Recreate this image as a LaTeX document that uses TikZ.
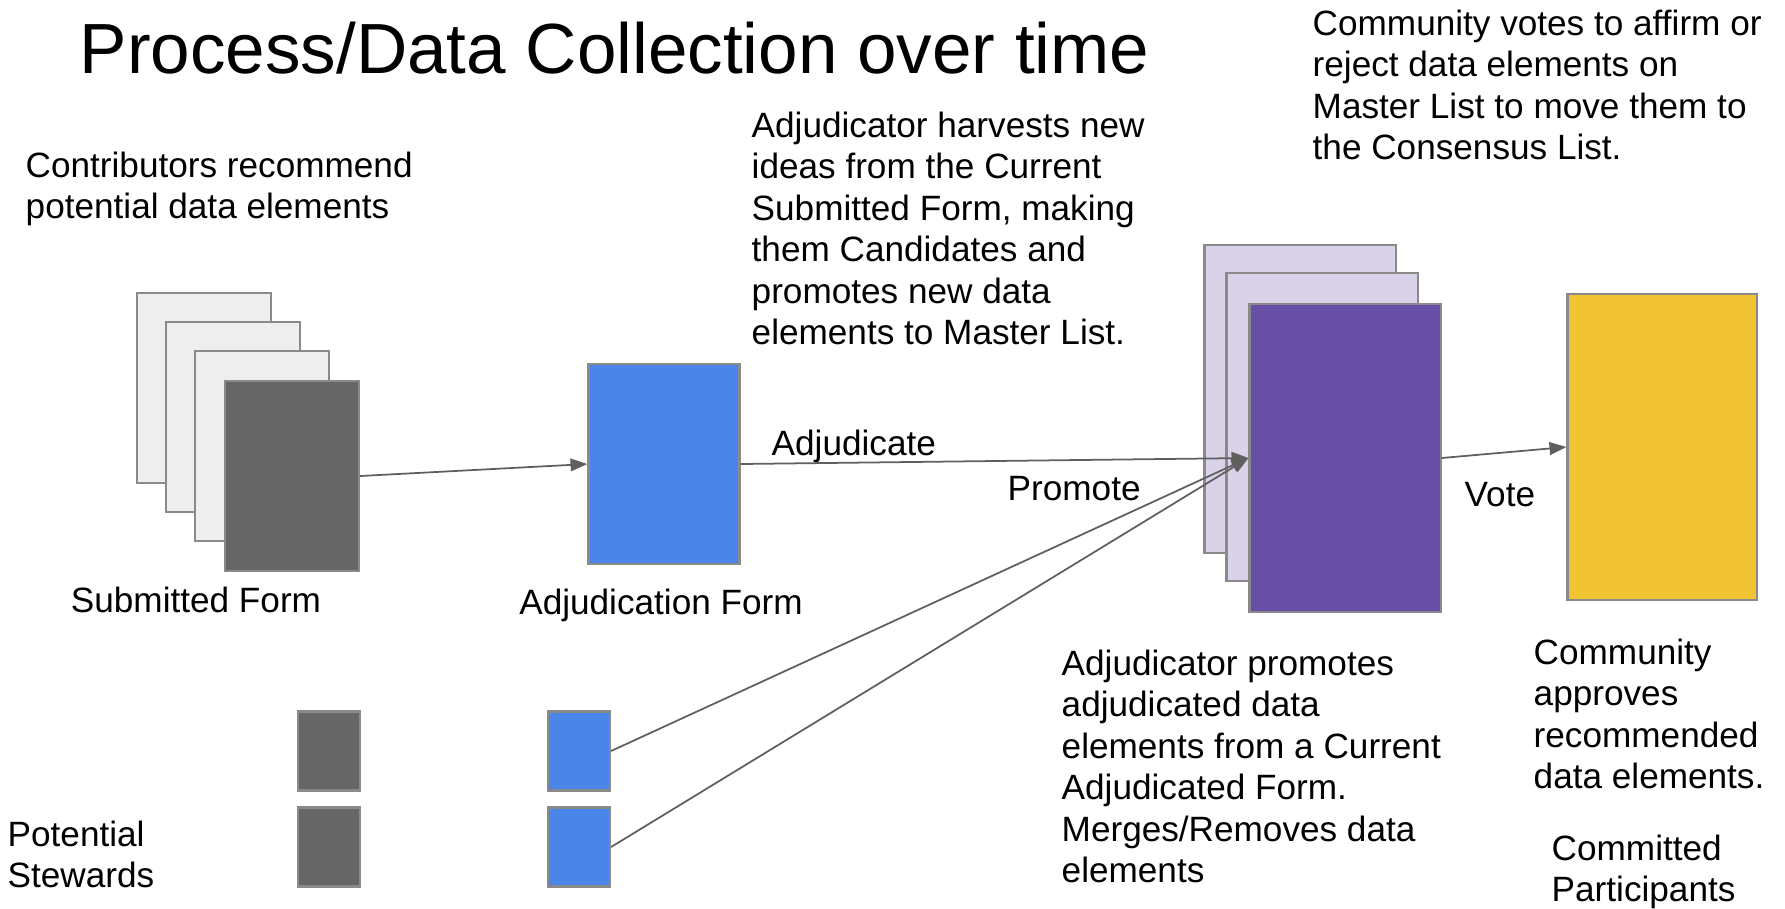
\documentclass[tikz,border=0pt]{standalone}
\usepackage{fontspec}
\setmainfont{Liberation Sans}
\usetikzlibrary{arrows.meta}
\definecolor{sheetgray}{HTML}{EEEEEE}
\definecolor{formgray}{HTML}{666666}
\definecolor{formblue}{HTML}{4A86E8}
\definecolor{listpurple}{HTML}{674EA7}
\definecolor{sheetpurple}{HTML}{D9D2E9}
\definecolor{listyellow}{HTML}{F1C232}
\definecolor{linegray}{HTML}{5F5F5F}
\definecolor{edgegray}{HTML}{8A8A8A}
\begin{document}
\begin{tikzpicture}[
x=0.01cm, y=-0.01cm,
sheet/.style={rectangle, draw=edgegray, line width=0.6pt, inner sep=0pt},
bigsheet/.style={sheet, minimum width=1.34cm, minimum height=1.9cm},
listsheet/.style={sheet, minimum width=1.91cm, minimum height=3.07cm},
smallsheet/.style={sheet, minimum width=0.62cm, minimum height=0.79cm},
note/.style={anchor=north west, align=left, inner sep=0pt, font=\fontsize{10pt}{11.8pt}\selectfont},
label/.style={anchor=base, inner sep=0pt, font=\fontsize{10pt}{11.8pt}\selectfont},
flow/.style={draw=linegray, line width=0.5pt, -{Triangle[length=4.8pt, width=3.6pt]}},
]
\useasboundingbox (0,0) rectangle (1785,908);
%Title
\node[anchor=base west, inner sep=0pt, font=\fontsize{20.2pt}{24pt}\selectfont] (title) at (79,73) {Process/Data Collection over time};
%Nodes
\node[bigsheet, fill=sheetgray](sub1) at (204,388) {};
\node[bigsheet, fill=sheetgray](sub2) at (233,417) {};
\node[bigsheet, fill=sheetgray](sub3) at (262,446) {};
\node[bigsheet, fill=formgray](submitted) at (292,476) {};
\node[sheet, fill=formblue, minimum width=1.51cm, minimum height=2cm](adjform) at (664,464) {};
\node[listsheet, fill=sheetpurple](master1) at (1300,399) {};
\node[listsheet, fill=sheetpurple](master2) at (1322,427) {};
\node[listsheet, fill=listpurple](master) at (1345,458) {};
\node[sheet, fill=listyellow, minimum width=1.89cm, minimum height=3.06cm](consensus) at (1662,447) {};
\node[smallsheet, fill=formgray](steward1) at (329,751) {};
\node[smallsheet, fill=formgray](steward2) at (329,847) {};
\node[smallsheet, fill=formblue](adjsmall1) at (579,751) {};
\node[smallsheet, fill=formblue](adjsmall2) at (579,847) {};
%Texts
\node[note](contrib) at (25,151) {Contributors recommend\\potential data elements};
\node[note](harvest) at (751,111) {Adjudicator harvests new\\ideas from the Current\\Submitted Form, making\\them Candidates and\\promotes new data\\elements to Master List.};
\node[note](votes) at (1312,9) {Community votes to affirm or\\reject data elements on\\Master List to move them to\\the Consensus List.};
\node[note](promotes) at (1061,649) {Adjudicator promotes\\adjudicated data\\elements from a Current\\Adjudicated Form.\\Merges/Removes data\\elements};
\node[note](approves) at (1533,638) {Community\\approves\\recommended\\data elements.};
\node[note](committed) at (1551,834) {Committed\\Participants};
\node[note](stewards) at (7,820) {Potential\\Stewards};
\node[label](subname) at (196,612) {Submitted Form};
\node[label](adjname) at (661,614) {Adjudication Form};
\node[label, anchor=base west](adjlabel) at (771,455) {Adjudicate};
\node[label, anchor=base west](promlabel) at (1007,500) {Promote};
\node[label, anchor=base west](votelabel) at (1464,506) {Vote};
%Lines
\draw[flow] (submitted.east) -- (adjform.west);
\draw[flow] (adjform.east) -- (master.west);
\draw[flow] (adjsmall1.east) -- (master.west);
\draw[flow] (adjsmall2.east) -- (master.west);
\draw[flow] (master.east) -- (consensus.west);
\end{tikzpicture}
\end{document}
